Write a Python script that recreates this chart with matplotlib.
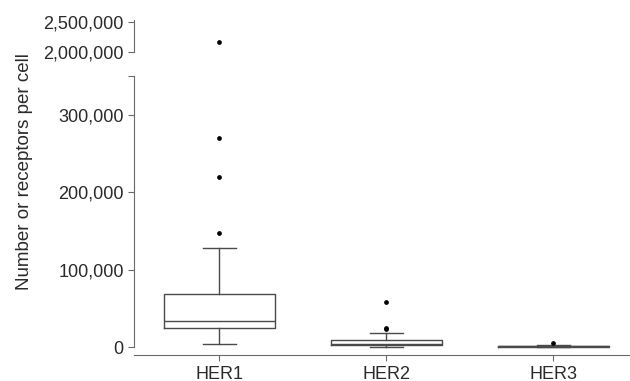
import matplotlib.pyplot as plt
from matplotlib.ticker import FuncFormatter

plt.rcParams["font.family"] = ["Liberation Sans", "DejaVu Sans"]

# Box statistics (receptors per cell)
labels = ["HER1", "HER2", "HER3"]
whislo = [4000, 500, 500]
q1 = [24500, 3000, 900]
med = [33500, 3800, 1300]
q3 = [68500, 10000, 1800]
whishi = [128000, 18000, 2800]
fliers = [
    [148000, 219000, 270000, 2160000],
    [23000, 25000, 58000],
    [5000],
]

stats = []
for i, name in enumerate(labels):
    stats.append(dict(label=name, whislo=whislo[i], q1=q1[i], med=med[i],
                      q3=q3[i], whishi=whishi[i], fliers=fliers[i]))

line_col = "#4a4a4a"
spine_col = "#6a6a6a"

fig = plt.figure(figsize=(6.3, 3.81), dpi=100)
ax_top = fig.add_axes([0.213, 0.8635, 0.787, 0.083])
ax = fig.add_axes([0.213, 0.068, 0.787, 0.733])

props = dict(
    positions=[1, 2, 3], widths=0.665, capwidths=0.2,
    boxprops=dict(color=line_col, linewidth=1.0),
    medianprops=dict(color=line_col, linewidth=1.0),
    whiskerprops=dict(color=line_col, linewidth=1.0),
    capprops=dict(color=line_col, linewidth=1.0),
    flierprops=dict(marker="o", markersize=2.4, markerfacecolor="black",
                    markeredgecolor="black"),
)
for a in (ax, ax_top):
    a.bxp(stats, **props)
    a.set_xlim(0.49, 3.46)
    for s in ("top", "right"):
        a.spines[s].set_visible(False)
    a.spines["left"].set_color(spine_col)
    a.spines["bottom"].set_color(spine_col)
    a.tick_params(colors=spine_col, labelcolor="#2a2a2a", labelsize=13,
                  length=4, width=0.8)

fmt = FuncFormatter(lambda v, p: f"{int(v):,}")

# lower part
ax.set_ylim(-10000, 350000)
ax.set_yticks([0, 100000, 200000, 300000, 350000])
ax.set_yticklabels(["0", "100,000", "200,000", "300,000", ""])
ax.set_xticks([1, 2, 3])
ax.set_xticklabels(labels)
ax.spines["left"].set_bounds(0, 350000)
ax.set_ylabel("Number or receptors per cell", fontsize=13.5, color="#2a2a2a")
ax.yaxis.set_label_coords(-0.204, 0.656)

# upper part
ax_top.set_ylim(2000000, 2520000)
ax_top.set_yticks([2000000, 2500000])
ax_top.yaxis.set_major_formatter(fmt)
ax_top.spines["left"].set_bounds(2000000, 2520000)
ax_top.spines["bottom"].set_visible(False)
ax_top.set_xticks([])

fig.savefig("out.png", dpi=100)
